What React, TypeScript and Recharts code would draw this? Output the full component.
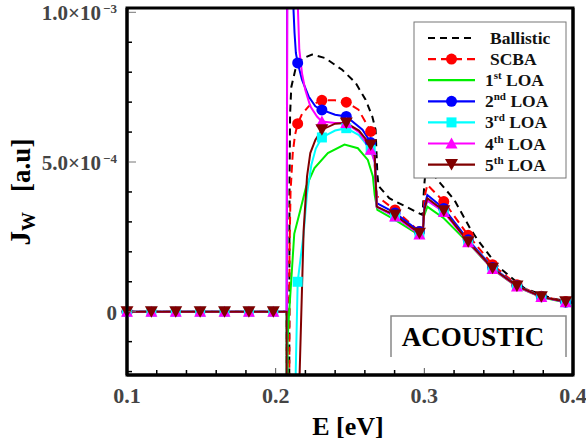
import { LineChart, Line, XAxis, YAxis } from 'recharts'

// energies where the markers sit (same for every marked series)
const MARKER_E = [0.1, 0.1164, 0.1328, 0.1492, 0.1656, 0.182, 0.1984, 0.2148, 0.2311, 0.2475, 0.2639,
    0.2803, 0.2967, 0.3131, 0.3295, 0.3459, 0.3623, 0.3787, 0.3951]

const X_TICKS = [0.1, 0.12, 0.14, 0.16, 0.18, 0.2, 0.22, 0.24, 0.26, 0.28, 0.3, 0.32, 0.34, 0.36, 0.38, 0.4]
const X_MAJOR = [0.1, 0.2, 0.3, 0.4]
const Y_TICKS = [-2, -1, 0, 1, 2, 3, 4, 5, 6, 7, 8, 9, 10]
const Y_MAJOR = [0, 5, 10]
const Y_MANT = ['0', '5.0×10', '1.0×10']
const Y_EXP = ['', '−4', '−3']

// J_W in units of 1e-4 [a.u], pairs of [E (eV), J]
const ballistic = [[0.1, 0], [0.2074, 0], [0.2077, -13], [0.2089, -13], [0.2093, 4], [0.2097, 6.6], [0.2105, 7.5],
    [0.2132, 8.08], [0.2177, 8.45], [0.2245, 8.59], [0.2334, 8.47], [0.2447, 8.08], [0.2537, 7.65], [0.2605, 7.08],
    [0.265, 6.52], [0.2672, 6.08], [0.2684, 4.6], [0.2692, 4.2], [0.2764, 3.79], [0.2988, 3.23], [0.2999, 4.2],
    [0.301, 4.8], [0.304, 4.75], [0.3089, 4.4], [0.3201, 3.74], [0.3314, 2.73], [0.3359, 2.4], [0.3495, 1.51],
    [0.3674, 0.78], [0.3855, 0.45], [0.4, 0.32]]

const scba = [[0.1, 0], [0.2074, 0], [0.2076, -13], [0.2089, -13], [0.2093, 2.0], [0.21, 4.0], [0.2115, 5.3],
    [0.213, 5.9], [0.2148, 6.28], [0.2177, 6.6], [0.2222, 6.86], [0.2311, 7.06], [0.24, 7.06], [0.2475, 7.0],
    [0.2557, 6.75], [0.2639, 6.02], [0.2665, 5.0], [0.268, 3.86], [0.2803, 3.4], [0.2967, 2.68], [0.2988, 2.6],
    [0.3, 3.8], [0.302, 4.24], [0.3131, 3.68], [0.3295, 2.55], [0.3459, 1.57], [0.3623, 0.9], [0.3787, 0.52],
    [0.3951, 0.34], [0.4, 0.31]]

const loa1 = [[0.1, 0], [0.2074, 0], [0.2076, -13], [0.2078, -13], [0.208, -0.95], [0.2091, 0], [0.2105, 1.06],
    [0.2125, 2.6], [0.2166, 3.4], [0.2205, 4.18], [0.2261, 4.8], [0.2351, 5.3], [0.2463, 5.58], [0.2553, 5.46],
    [0.262, 5.07], [0.2654, 4.52], [0.2666, 3.9], [0.2684, 3.4], [0.2803, 3.07], [0.2985, 2.5], [0.2998, 3.2],
    [0.302, 3.51], [0.3131, 3.12], [0.3295, 2.3], [0.3459, 1.42], [0.3623, 0.83], [0.3787, 0.48], [0.3951, 0.31],
    [0.4, 0.29]]

const loa2 = [[0.1, 0], [0.2074, 0], [0.2078, 13], [0.2112, 13], [0.212, 10.08], [0.2127, 9.31], [0.2136, 8.64],
    [0.2148, 8.31], [0.2177, 7.75], [0.2222, 7.19], [0.2267, 6.86], [0.2311, 6.74], [0.24, 6.58], [0.2475, 6.52],
    [0.2584, 6.08], [0.2639, 5.65], [0.2666, 5.3], [0.268, 3.63], [0.2803, 3.3], [0.2967, 2.68], [0.2988, 2.58],
    [0.3, 3.5], [0.302, 3.9], [0.3131, 3.45], [0.3295, 2.4], [0.3459, 1.48], [0.3623, 0.87], [0.3787, 0.5],
    [0.3951, 0.32], [0.4, 0.3]]

const loa3 = [[0.1, 0], [0.1164, 0], [0.1328, 0], [0.1492, 0], [0.1656, 0], [0.182, 0], [0.1984, 0], [0.2074, 0],
    [0.2076, -13], [0.213, -13], [0.2135, -2.0], [0.2148, 1.0], [0.2188, 2.6], [0.221, 3.9], [0.224, 4.9],
    [0.227, 5.45], [0.2311, 5.82], [0.24, 6.05], [0.2475, 6.13], [0.256, 5.9], [0.2639, 5.41], [0.2666, 5.0],
    [0.268, 3.5], [0.2803, 3.18], [0.2967, 2.6], [0.2988, 2.52], [0.3, 3.4], [0.302, 3.7], [0.3131, 3.35],
    [0.3295, 2.34], [0.3459, 1.45], [0.3623, 0.86], [0.3787, 0.5], [0.3951, 0.32], [0.4, 0.3]]

const loa4 = [[0.1, 0], [0.1164, 0], [0.1328, 0], [0.1492, 0], [0.1656, 0], [0.182, 0], [0.1984, 0], [0.2074, 0],
    [0.2079, 13], [0.2146, 13], [0.215, 10.08], [0.2159, 8.75], [0.2177, 7.97], [0.2199, 7.41], [0.2233, 6.86],
    [0.2278, 6.52], [0.2311, 6.35], [0.24, 6.3], [0.2475, 6.3], [0.256, 6.0], [0.2639, 5.41], [0.2666, 5.0],
    [0.268, 3.5], [0.2803, 3.18], [0.2967, 2.58], [0.2988, 2.5], [0.3, 3.4], [0.302, 3.72], [0.3131, 3.33],
    [0.3295, 2.32], [0.3459, 1.43], [0.3623, 0.84], [0.3787, 0.49], [0.3951, 0.32], [0.4, 0.3]]

const loa5 = [[0.1, 0], [0.1164, 0], [0.1328, 0], [0.1492, 0], [0.1656, 0], [0.182, 0], [0.1984, 0], [0.2074, 0],
    [0.2075, -13], [0.2156, -13], [0.2161, -2.1], [0.2188, 2.7], [0.2211, 4.52], [0.2233, 5.3], [0.2267, 5.74],
    [0.2311, 6.08], [0.24, 6.28], [0.2475, 6.3], [0.256, 6.05], [0.2639, 5.57], [0.2666, 5.2], [0.268, 3.51],
    [0.2803, 3.23], [0.2967, 2.62], [0.2988, 2.52], [0.3, 3.4], [0.302, 3.79], [0.3131, 3.37], [0.3295, 2.34],
    [0.3459, 1.45], [0.3623, 0.86], [0.3787, 0.5], [0.3951, 0.33], [0.4, 0.3]]

const SERIES = [
    { name: 'Ballistic', sup: '', rest: '', data: ballistic, color: '#000000', dash: '7 5', marker: '' },
    { name: 'SCBA', sup: '', rest: '', data: scba, color: '#ff0000', dash: '8 5', marker: 'circle' },
    { name: '1', sup: 'st', rest: ' LOA', data: loa1, color: '#00ee00', dash: '', marker: '' },
    { name: '2', sup: 'nd', rest: ' LOA', data: loa2, color: '#0000ff', dash: '', marker: 'circle' },
    { name: '3', sup: 'rd', rest: ' LOA', data: loa3, color: '#00ffff', dash: '', marker: 'square' },
    { name: '4', sup: 'th', rest: ' LOA', data: loa4, color: '#ff00ff', dash: '', marker: 'up' },
    { name: '5', sup: 'th', rest: ' LOA', data: loa5, color: '#800000', dash: '', marker: 'down' },
]

const FONT = '"Liberation Serif", "Times New Roman", serif'
const X_DOMAIN = [0.1, 0.4]
const Y_DOMAIN = [-2.114, 10.144]

const isMark = (e: number) => MARKER_E.some((m) => Math.abs(m - e) < 1e-6)

function Marker({ kind, color, cx, cy }: { kind: string; color: string; cx: number; cy: number }) {
    if (kind === 'circle') return <circle cx={cx} cy={cy} r={5.5} fill={color} />
    if (kind === 'square') return <rect x={cx - 5} y={cy - 5} width={10} height={10} fill={color} />
    if (kind === 'up') return <polygon points={`${cx},${cy - 6} ${cx + 6},${cy + 5} ${cx - 6},${cy + 5}`} fill={color} />
    if (kind === 'down') return <polygon points={`${cx - 6.5},${cy - 5.5} ${cx + 6.5},${cy - 5.5} ${cx},${cy + 6}`} fill={color} />
    return null
}

const dotFor = (kind: string, color: string) => (p: any) => {
    if (!kind || !isMark(p.payload.E)) return <g key={`d-${p.index}`} />
    return (
        <g key={`d-${p.index}`}>
            <Marker kind={kind} color={color} cx={p.cx} cy={p.cy} />
        </g>
    )
}

// plot frame edges (px), from the chart margins below
const PLOT_LEFT = 127
const PLOT_TOP = 8
const PLOT_RIGHT = 573
const PLOT_BOTTOM = 375

function YTick(props: any) {
    const { y, payload } = props
    const x = PLOT_LEFT
    const i = Y_MAJOR.indexOf(payload.value)
    if (i < 0) {
        return <line x1={x} x2={x + 5} y1={y} y2={y} stroke="#000000" strokeWidth={1.5} />
    }
    return (
        <g>
            <line x1={x} x2={x + 9} y1={y} y2={y} stroke="#777777" strokeWidth={1} />
            <text x={x - 10 - (Y_EXP[i] ? 16 : 0)} y={y + 8} textAnchor="end" fontFamily={FONT} fontWeight="bold"
                fontSize={21} fill="#444444">{Y_MANT[i]}</text>
            {Y_EXP[i] && (
                <text x={x - 10} y={y + 1} textAnchor="end" fontFamily={FONT} fontWeight="bold" fontSize={13}
                    fill="#444444">{Y_EXP[i]}</text>
            )}
        </g>
    )
}

function XTick(props: any) {
    const { x, payload } = props
    const y = PLOT_BOTTOM
    const major = X_MAJOR.some((v) => Math.abs(v - payload.value) < 1e-6)
    return (
        <g>
            <line x1={x} x2={x} y1={y} y2={y - (major ? 7 : 5)} stroke={major ? '#555555' : '#000000'}
                strokeWidth={major ? 1 : 1.5} />
            {major && (
                <text x={x} y={y + 28} textAnchor="middle" fontFamily={FONT} fontWeight="bold" fontSize={22}
                    fill="#444444">{payload.value.toFixed(1)}</text>
            )}
        </g>
    )
}

function LegendBox() {
    return (
        <g transform="translate(414,22)">
            <rect x={0} y={0} width={152} height={156} fill="#ffffff" stroke="#777777" strokeWidth={1} />
            {SERIES.map((s, i) => {
                const cy = 16 + i * 21.1
                const tx = s.sup ? 71 : 76
                return (
                    <g key={s.name + i}>
                        <line x1={14} x2={61} y1={cy} y2={cy} stroke={s.color} strokeWidth={2.2}
                            strokeDasharray={s.dash || undefined} />
                        <Marker kind={s.marker} color={s.color} cx={37.5} cy={cy} />
                        <text x={tx} y={cy + 6} fontFamily={FONT} fontWeight="bold" fontSize={17.5} fill="#111111">
                            {s.name}
                            {s.sup && <tspan fontSize={11} dy={-7}>{s.sup}</tspan>}
                            {s.rest && <tspan dy={s.sup ? 7 : 0}>{s.rest}</tspan>}
                        </text>
                    </g>
                )
            })}
        </g>
    )
}

const AXIS_LINE = { stroke: '#000000', strokeWidth: 3 }
const FRAME = `${PLOT_LEFT},${PLOT_TOP} ${PLOT_RIGHT},${PLOT_TOP} ${PLOT_RIGHT},${PLOT_BOTTOM} ${PLOT_LEFT},${PLOT_BOTTOM} ${PLOT_LEFT},${PLOT_TOP - 1.5}`

export default function App() {
    return (
        <div style={{ position: 'absolute', left: 0, top: 0, width: 586, height: 447, background: '#ffffff' }}>
            <LineChart width={586} height={447} margin={{ top: PLOT_TOP, right: 0, bottom: 0, left: 0 }}>
                <XAxis xAxisId="b" dataKey="E" type="number" domain={X_DOMAIN} ticks={X_TICKS} tick={<XTick />}
                    tickLine={false} axisLine={AXIS_LINE} height={447 - PLOT_BOTTOM} tickSize={0} tickMargin={0}
                    interval={0} allowDuplicatedCategory={false} />
                <XAxis xAxisId="t" orientation="top" dataKey="E" type="number" domain={X_DOMAIN} tick={false}
                    tickLine={false} axisLine={AXIS_LINE} height={0} />
                <YAxis yAxisId="l" type="number" domain={Y_DOMAIN} ticks={Y_TICKS} tick={<YTick />} allowDataOverflow
                    tickLine={false} axisLine={AXIS_LINE} width={PLOT_LEFT} tickSize={0} tickMargin={0} interval={0} />
                <YAxis yAxisId="r" orientation="right" type="number" domain={Y_DOMAIN} allowDataOverflow tick={false}
                    tickLine={false} axisLine={AXIS_LINE} width={586 - PLOT_RIGHT} />
                {SERIES.map((s) => (
                    <Line key={s.name + s.sup} xAxisId="b" yAxisId="l" data={s.data.map(([E, J]) => ({ E, J }))}
                        dataKey="J" type="linear" stroke={s.color} strokeWidth={2}
                        strokeDasharray={s.dash || undefined} dot={dotFor(s.marker, s.color)} activeDot={false}
                        isAnimationActive={false} />
                ))}
            </LineChart>
            <svg width={586} height={447} style={{ position: 'absolute', left: 0, top: 0 }}>
                <LegendBox />
                <polyline points="391,357 391,316 566,316 566,357" fill="none" stroke="#888888" strokeWidth={1.5} />
                <text x={473} y={346} textAnchor="middle" fontFamily={FONT} fontWeight="bold" fontSize={27}
                    fill="#000000">ACOUSTIC</text>
                <text x={348} y={435} textAnchor="middle" fontFamily={FONT} fontWeight="bold" fontSize={26}
                    fill="#000000">E [eV]</text>
                <text transform="translate(30,192) rotate(-90)" textAnchor="middle" fontFamily={FONT}
                    fontWeight="bold" fontSize={29} fill="#000000">
                    J<tspan fontSize={19} dy={5}>W</tspan><tspan dy={-5} dx={20} fontSize={27}>[a.u]</tspan>
                </text>
                <polyline points={FRAME} fill="none" stroke="#000000" strokeWidth={3} />
            </svg>
        </div>
    )
}
